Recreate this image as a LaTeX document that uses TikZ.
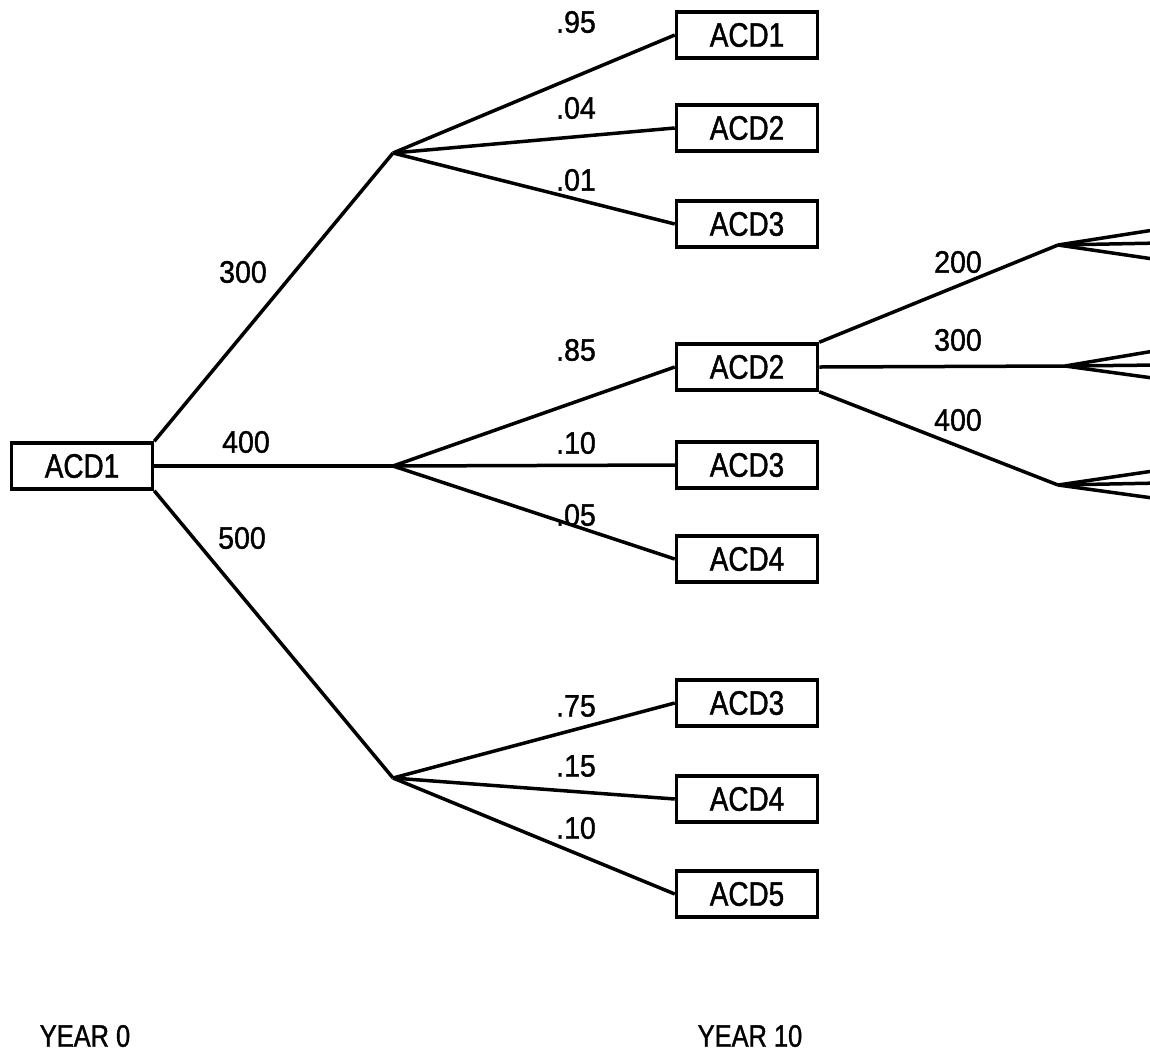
\documentclass[tikz,border=0pt]{standalone}
\usepackage{fontspec}
\setmainfont{Liberation Sans}
\newfontfamily\boxfont[FakeStretch=0.82,FakeBold=1.2]{Liberation Sans}
\newfontfamily\lblfont[FakeStretch=0.92,FakeBold=1.2]{Liberation Sans}
\begin{document}
\begin{tikzpicture}[x=1pt,y=-1pt,
  acd/.style={draw, line width=3.5pt, minimum width=141pt, minimum height=46pt, inner sep=0pt, font=\boxfont\fontsize{34}{34}\selectfont},
  lbl/.style={font=\lblfont\fontsize{31}{31}\selectfont, inner sep=0pt},
  br/.style={line width=3.5pt}]
\useasboundingbox (0,0) rectangle (1150,1061);
\clip (0,0) rectangle (1150,1061);
% nodes
\node[acd] (r) at (82,466) {ACD1};
\coordinate (b1) at (393,153);
\coordinate (b2) at (393,466);
\coordinate (b3) at (393,778);
\node[acd] (a1) at (747,35) {ACD1};
\node[acd] (a2) at (747,128) {ACD2};
\node[acd] (a3) at (747,224) {ACD3};
\node[acd] (m2) at (747,367) {ACD2};
\node[acd] (m3) at (747,465) {ACD3};
\node[acd] (m4) at (747,559) {ACD4};
\node[acd] (c3) at (747,703) {ACD3};
\node[acd] (c4) at (747,799) {ACD4};
\node[acd] (c5) at (747,894) {ACD5};
\coordinate (f1) at (1058,245);
\coordinate (f2) at (1065,366);
\coordinate (f3) at (1058,485);
\coordinate (f1a) at (1160,229);
\coordinate (f1b) at (1160,243);
\coordinate (f1c) at (1160,260);
\coordinate (f2a) at (1160,350);
\coordinate (f2b) at (1160,365);
\coordinate (f2c) at (1160,379);
\coordinate (f3a) at (1160,470);
\coordinate (f3b) at (1160,483);
\coordinate (f3c) at (1160,499);
% connectors
\draw[br] (r.north east) -- (b1);
\draw[br] (r.east) -- (b2);
\draw[br] (r.south east) -- (b3);
\draw[br] (b1) -- (a1.west);
\draw[br] (b1) -- (a2.west);
\draw[br] (b1) -- (a3.west);
\draw[br] (b2) -- (m2.west);
\draw[br] (b2) -- (m3.west);
\draw[br] (b2) -- (m4.west);
\draw[br] (b3) -- (c3.west);
\draw[br] (b3) -- (c4.west);
\draw[br] (b3) -- (c5.west);
\draw[br] (m2.north east) -- (f1);
\draw[br] (m2.east) -- (f2);
\draw[br] (m2.south east) -- (f3);
\foreach \f in {f1,f2,f3}{
  \draw[br] (\f) -- (\f a);
  \draw[br] (\f) -- (\f b);
  \draw[br] (\f) -- (\f c);
}
% labels
\node[lbl] (l300) at (243,272) {300};
\node[lbl] (l400) at (246,442) {400};
\node[lbl] (l500) at (242,538) {500};
\node[lbl] (p95) at (576,22) {.95};
\node[lbl] (p04) at (576,108) {.04};
\node[lbl] (p01) at (576,180) {.01};
\node[lbl] (p85) at (576,350) {.85};
\node[lbl] (p10a) at (576,443) {.10};
\node[lbl] (p05) at (576,515) {.05};
\node[lbl] (p75) at (576,706) {.75};
\node[lbl] (p15) at (576,766) {.15};
\node[lbl] (p10b) at (576,828) {.10};
\node[lbl] (l200r) at (958,262) {200};
\node[lbl] (l300r) at (958,340) {300};
\node[lbl] (l400r) at (958,420) {400};
\node[lbl, font=\boxfont\fontsize{31}{31}\selectfont] (y0) at (85,1036) {YEAR 0};
\node[lbl, font=\boxfont\fontsize{31}{31}\selectfont] (y10) at (750,1036) {YEAR 10};
\end{tikzpicture}
\end{document}
